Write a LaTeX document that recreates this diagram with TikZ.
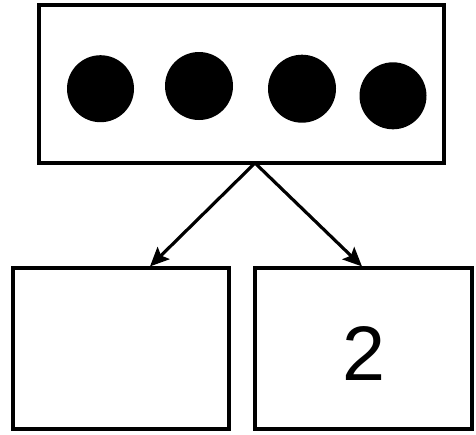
\documentclass[tikz,border=0pt]{standalone}
\usepackage{fontspec}
\setmainfont{Liberation Sans}
\usetikzlibrary{arrows.meta}

\begin{document}
\begin{tikzpicture}[x=0.02cm,y=-0.02cm,line width=1.8pt,
  box/.style={draw,inner sep=0pt},
  dot/.style={circle,fill=black,inner sep=0pt},
  arr/.style={-{Stealth[length=0.38cm,width=0.34cm,inset=0.07cm]}}]
\useasboundingbox (0,0) rectangle (476,434);
% top box with the dots
\node[box,minimum width=405*0.02cm,minimum height=158*0.02cm] (top) at (241.5,84) {};
\node[dot,minimum size=67*0.02cm] (d1) at (100.5,88.7) {};
\node[dot,minimum size=68*0.02cm] (d2) at (199,86) {};
\node[dot,minimum size=68*0.02cm] (d3) at (302,88.7) {};
\node[dot,minimum size=67*0.02cm] (d4) at (393,95.8) {};
% the two boxes below
\node[box,minimum width=216*0.02cm,minimum height=161*0.02cm] (left) at (121,348.5) {};
\node[box,minimum width=217*0.02cm,minimum height=161*0.02cm] (right) at (363.5,348.5) {};
\node (two) at (364,353) {\fontsize{44}{50}\selectfont 2};
% arrows
\coordinate (fork) at (255,163);
\draw[arr] (fork) -- ([xshift=29*0.02cm]left.north);
\draw[arr] (fork) -- ([xshift=-1.5*0.02cm]right.north);
\end{tikzpicture}
\end{document}
